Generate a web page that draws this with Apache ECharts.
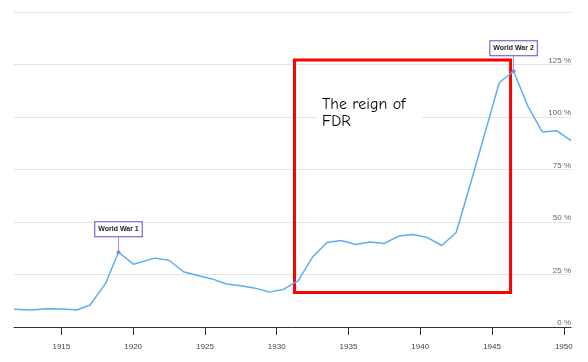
<!DOCTYPE html>
<html><head><meta charset="utf-8">
<script src="https://cdn.jsdelivr.net/npm/echarts@6/dist/echarts.min.js"></script>
<style>html,body{margin:0;padding:0;background:#fff}#c{width:588px;height:362px}</style>
</head><body><div id="c"></div>
<script>
// Years (fractional) and debt as % of GDP
const years = [1911.7, 1912.93, 1913.98, 1915.14, 1916.07, 1917.0, 1918.08, 1918.98, 1920.02,
  1921.5, 1922.5, 1923.5, 1924.5, 1925.5, 1926.5, 1927.5, 1928.5, 1929.5, 1930.5,
  1931.5, 1932.5, 1933.5, 1934.5, 1935.5, 1936.5, 1937.5, 1938.5, 1939.5, 1940.5,
  1941.5, 1942.5, 1943.5, 1944.5, 1945.5, 1946.5, 1947.5, 1948.5, 1949.5, 1950.5];
const debtPct = [8.4, 8.1, 8.7, 8.6, 8.1, 10.5, 20.8, 35.6, 29.9,
  32.8, 31.8, 26.3, 24.5, 22.9, 20.5, 19.6, 18.5, 16.6, 18.0,
  22.1, 33.3, 40.2, 41.2, 39.3, 40.5, 39.8, 43.3, 44.0, 42.6,
  38.8, 45.0, 68.2, 92.2, 116.3, 121.8, 105.1, 92.9, 93.5, 88.7];
const xTickLabels = [1915, 1920, 1925, 1930, 1935, 1940, 1945, 1950];
const yTicks = [0, 25, 50, 75, 100, 125, 150];
const annotationNames = ['World War 1', 'World War 2'];
const annotationYears = [1918.98, 1946.5];
const fdrYears = [1931.24, 1946.29];
const fdrRange = [16.4, 127.1];
const fdrText = 'The reign of\nFDR';

const seriesData = years.map((y, i) => [y, debtPct[i]]);
const markPoints = [];
annotationNames.forEach((name, k) => {
  const idx = years.indexOf(annotationYears[k]);
  const coord = [years[idx], debtPct[idx]];
  markPoints.push({
    coord, symbol: 'rect', symbolSize: [1, 16], symbolOffset: [0, -8],
    itemStyle: {color: '#9d95e0'},
    label: {show: true, position: 'top', distance: 0, formatter: name,
      backgroundColor: '#fff', borderColor: '#5a4fc8', borderWidth: 1,
      padding: [3, 3, 3, 3], fontSize: 7, lineHeight: 8, fontWeight: 'bold',
      color: '#222', fontFamily: '"Liberation Sans", Arial, sans-serif'}
  });
  markPoints.push({coord, symbol: 'circle', symbolSize: 4,
    itemStyle: {color: '#8f86d8'}, label: {show: false}});
});

const chart = echarts.init(document.getElementById('c'), null, {renderer: 'canvas'});
chart.setOption({
  animation: false,
  backgroundColor: '#fff',
  grid: {left: 14, right: 17, top: 12, bottom: 35},
  xAxis: {
    type: 'value', min: 'dataMin', max: 'dataMax',
    axisLine: {show: true, lineStyle: {color: '#333', width: 1}},
    axisTick: {show: true, customValues: xTickLabels, length: 8, lineStyle: {color: '#333'}},
    axisLabel: {customValues: xTickLabels, margin: 16, fontSize: 8, color: '#444',
      fontFamily: '"Liberation Sans", Arial, sans-serif', formatter: v => String(v)},
    splitLine: {show: false}
  },
  yAxis: {
    type: 'value', position: 'right', min: yTicks[0], max: yTicks[yTicks.length - 1], interval: 25,
    axisLine: {show: false}, axisTick: {show: false},
    splitLine: {show: true, lineStyle: {color: '#e3e3e3', width: 1}},
    axisLabel: {inside: true, margin: 0, verticalAlign: 'bottom', fontSize: 8, color: '#666',
      fontFamily: '"Liberation Sans", Arial, sans-serif',
      formatter: v => v === yTicks[yTicks.length - 1] ? '' : v + ' %'}
  },
  series: [{
    type: 'line', data: seriesData, showSymbol: false, clip: true,
    lineStyle: {color: '#5aaef5', width: 1.5},
    itemStyle: {color: '#5aaef5'},
    markPoint: {silent: true, data: markPoints},
    markArea: {silent: true,
      itemStyle: {color: 'rgba(0,0,0,0)', borderColor: '#ff0000', borderWidth: 3},
      data: [[{coord: [fdrYears[0], fdrRange[0]]}, {coord: [fdrYears[1], fdrRange[1]]}]]}
  }],
  graphic: [{
    type: 'text', left: 317, top: 94, z: 100,
    style: {text: fdrText, fill: '#000', fontSize: 16, lineHeight: 17,
      fontFamily: '"Comic Sans MS", "Comic Neue", "Liberation Sans", sans-serif',
      backgroundColor: '#fff', padding: [2, 16, 2, 5]}
  }]
});
</script></body></html>
